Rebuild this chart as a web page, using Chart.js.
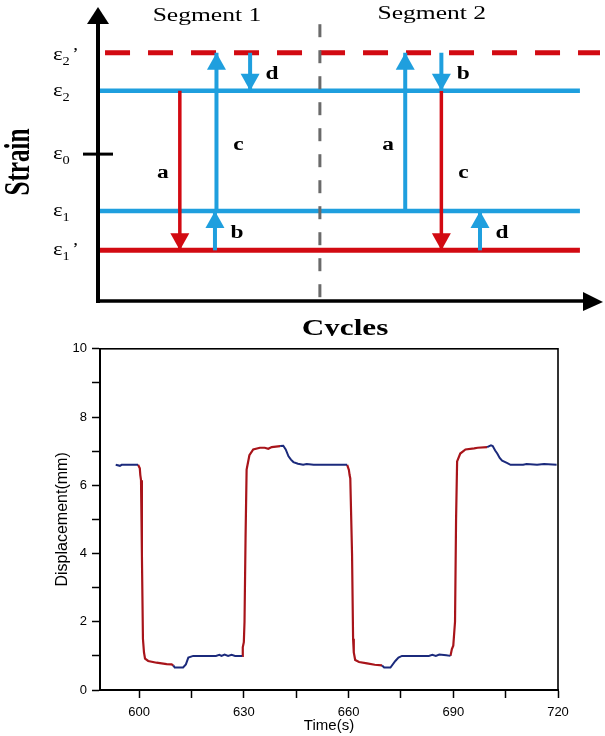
<!DOCTYPE html>
<html>
<head>
<meta charset="utf-8">
<script src="https://cdn.jsdelivr.net/npm/chart.js@4.4.0/dist/chart.umd.min.js"></script>
<style>
  html, body { margin: 0; padding: 0; background: #fff; }
  canvas { display: block; }
</style>
</head>
<body>
<canvas id="schema" width="605" height="336"></canvas>
<canvas id="disp" width="605" height="400"></canvas>
<script>
// schematic: strain levels (arbitrary strain units, eps0 = 0)
const levelSub = ['2', '2', '0', '1', '1'];
const levelPrime = [true, false, false, false, true];
const levelValue = [1.6, 1.0, 0, -0.9, -1.52];
const lineStart = [1.4, 0.3, null, 0.3, 0.3];
const lineEnd = [100, 96, null, 96, 96];

const segmentNames = ['Segment 1', 'Segment 2'];
const segmentCenter = [21.7, 66.5];
const segmentBoundary = 44.2;

// arrows a-d of each segment: cycle position, start and end strain
const arrowLabel = ['a', 'b', 'c', 'd', 'a', 'b', 'c', 'd'];
const arrowCycle = [16.3, 23.3, 23.6, 30.3, 61.2, 68.4, 68.4, 76.1];
const arrowFrom = [1.0, -1.52, -0.9, 1.6, -0.9, 1.6, 1.0, -1.52];
const arrowTo = [-1.52, -0.9, 1.6, 1.0, 1.6, 1.0, -1.52, -0.9];

// displacement record: ramps (red) and holds (blue), null = break
const rampTime = [599.7, 600.2, 600.35, 600.55, 600.8, 601.1, 601.4, 601.7, 602.6, 605, 607.9, 609.3, 609.8, null,
  629.5, 629.7, 630.0, 630.2, 630.5, 630.8, 631.6, 632.7, 634.6, 636, 637, 638, 640.4, null,
  659.6, 660.1, 660.3, 660.5, 661.0, 661.3, 661.5, 661.9, 663, 665.3, 667.5, 669.6, null,
  689.2, 689.6, 690.0, 690.5, 690.8, 691.1, 692, 693.5, 696, 697, 699.7];
const rampDisp = [6.6, 6.5, 6.3, 6.15, 4.0, 1.5, 1.1, 0.92, 0.85, 0.8, 0.76, 0.75, 0.72, null,
  1.0, 1.25, 1.4, 2.0, 4.5, 6.46, 6.88, 7.05, 7.1, 7.1, 7.07, 7.12, 7.15, null,
  6.6, 6.45, 6.3, 6.2, 4.0, 1.5, 1.1, 0.88, 0.82, 0.78, 0.74, 0.72, null,
  1.0, 1.2, 1.3, 2.0, 5.0, 6.7, 6.93, 7.05, 7.08, 7.1, 7.12];
const holdTime = [593.3, 594.5, 595, 597, 599.7, null,
  609.8, 610.2, 612.6, 613.4, 614.1, 615.5, 622, 623, 623.6, 624.5, 625.5, 626.5, 627.5, 629.5, null,
  640.4, 641.3, 642, 642.8, 643.5, 644.2, 645.5, 647, 648, 650, 659.6, null,
  669.6, 670.2, 672, 673.4, 674.3, 675.3, 683, 684, 685, 686, 688, 689.2, null,
  699.7, 700.8, 701.3, 702, 702.6, 703.3, 704, 705.5, 706.4, 710, 711, 714, 716, 719.6];
const holdDisp = [6.6, 6.57, 6.6, 6.6, 6.6, null,
  0.72, 0.66, 0.66, 0.75, 0.95, 1.0, 1.0, 1.03, 1.0, 1.04, 1.0, 1.03, 1.0, 1.0, null,
  7.15, 7.16, 7.05, 6.85, 6.75, 6.68, 6.63, 6.6, 6.62, 6.6, 6.6, null,
  0.72, 0.66, 0.66, 0.85, 0.95, 1.0, 1.0, 1.03, 1.0, 1.04, 1.02, 1.0, null,
  7.12, 7.17, 7.15, 7.02, 6.93, 6.8, 6.72, 6.65, 6.6, 6.6, 6.62, 6.6, 6.62, 6.6];
const timeTicks = [600, 615, 630, 645, 660, 675, 690, 705, 720];

const BLUE = '#1f9fde';
const RED = '#d20a12';
const SERIF = '"Liberation Serif", "Times New Roman", serif';
const SANS = '"Liberation Sans", Arial, sans-serif';

function xy(times, values) {
  return times.map((t, i) => ({ x: t, y: values[i] }));
}

// stretched text helper (the figure is wider than tall)
function text(ctx, str, x, y, font, sx, align, base) {
  ctx.save();
  ctx.translate(x, y);
  ctx.scale(sx, 1);
  ctx.font = font;
  ctx.textAlign = align || 'center';
  ctx.textBaseline = base || 'alphabetic';
  ctx.fillText(str, 0, 0);
  ctx.restore();
}

// ---------- top: schematic ----------
const schemaSets = [];
levelValue.forEach((v, i) => {
  if (lineStart[i] === null) return;
  schemaSets.push({
    data: [{ x: lineStart[i], y: v }, { x: lineEnd[i], y: v }],
    borderColor: levelPrime[i] ? RED : BLUE,
    borderWidth: levelPrime[i] ? 5 : 4.5,
    borderDash: levelPrime[i] && v > 0 ? [25, 18] : [],
    order: 2
  });
});
schemaSets.push({
  data: [{ x: segmentBoundary, y: -2.26 }, { x: segmentBoundary, y: 2.17 }],
  borderColor: '#6a6a6a',
  borderWidth: 3,
  borderDash: [13, 13],
  order: 1
});
const firstArrow = schemaSets.length;
arrowCycle.forEach((c, i) => {
  const isLoad = arrowTo[i] === levelValue[4];
  schemaSets.push({
    data: [{ x: c, y: arrowFrom[i] }, { x: c, y: arrowTo[i] }],
    borderColor: isLoad ? RED : BLUE,
    borderWidth: isLoad ? 3.5 : 4,
    order: 0
  });
});

const schemaDeco = {
  id: 'schemaDeco',
  afterDatasetsDraw(chart) {
    const ctx = chart.ctx;
    const { left, right, top, bottom } = chart.chartArea;
    const ys = chart.scales.y;
    ctx.save();

    // arrow heads and letters
    arrowCycle.forEach((c, i) => {
      const meta = chart.getDatasetMeta(firstArrow + i);
      const p0 = meta.data[0], p1 = meta.data[1];
      const dir = p1.y > p0.y ? 1 : -1;
      ctx.fillStyle = chart.data.datasets[firstArrow + i].borderColor;
      ctx.beginPath();
      ctx.moveTo(p1.x, p1.y);
      ctx.lineTo(p1.x - 9.5, p1.y - dir * 17);
      ctx.lineTo(p1.x + 9.5, p1.y - dir * 17);
      ctx.closePath();
      ctx.fill();

      const long = Math.abs(arrowTo[i] - arrowFrom[i]) > 2 && dir < 0;
      const lx = p1.x + (arrowLabel[i] === 'a' ? -17 : 22);
      const ly = (p0.y + p1.y) / 2 + (long ? 13 : 3);
      ctx.fillStyle = '#000';
      text(ctx, arrowLabel[i], lx, ly, 'bold 18px ' + SERIF, 1.3, 'center', 'middle');
    });

    // axes with arrow heads
    ctx.strokeStyle = '#000';
    ctx.fillStyle = '#000';
    ctx.lineWidth = 4;
    ctx.beginPath();
    ctx.moveTo(left, bottom + 2);
    ctx.lineTo(left, top + 16);
    ctx.stroke();
    ctx.lineWidth = 3.5;
    ctx.beginPath();
    ctx.moveTo(left - 2, bottom);
    ctx.lineTo(right - 16, bottom);
    ctx.stroke();
    ctx.beginPath();
    ctx.moveTo(left, top + 2);
    ctx.lineTo(left - 11, top + 19);
    ctx.lineTo(left + 11, top + 19);
    ctx.closePath();
    ctx.fill();
    ctx.beginPath();
    ctx.moveTo(right + 3, bottom + 1);
    ctx.lineTo(right - 17, bottom - 9);
    ctx.lineTo(right - 17, bottom + 10);
    ctx.closePath();
    ctx.fill();

    // eps0 tick
    const y0 = ys.getPixelForValue(levelValue[2]);
    ctx.lineWidth = 3;
    ctx.beginPath();
    ctx.moveTo(left - 15, y0);
    ctx.lineTo(left + 15, y0);
    ctx.stroke();

    // strain level names
    levelValue.forEach((v, i) => {
      const y = ys.getPixelForValue(v) + (levelPrime[i] && v > 0 ? 3 : 1);
      ctx.save();
      ctx.translate(53, y);
      ctx.scale(1.2, 1);
      ctx.font = '19px ' + SERIF;
      ctx.textAlign = 'left';
      ctx.textBaseline = 'alphabetic';
      ctx.fillText('ε', 0, 4);
      const w = ctx.measureText('ε').width;
      ctx.font = '12px ' + SERIF;
      ctx.fillText(levelSub[i], w, 9);
      if (levelPrime[i]) {
        ctx.font = '16px ' + SERIF;
        ctx.fillText('’', w + 8, 3);
      }
      ctx.restore();
    });

    // segment names
    segmentNames.forEach((s, i) => {
      const x = chart.scales.x.getPixelForValue(segmentCenter[i]);
      text(ctx, s, x, 21 - i * 2, '18px ' + SERIF, 1.42);
    });

    // axis titles
    ctx.save();
    ctx.translate(20, 162);
    ctx.rotate(-Math.PI / 2);
    ctx.scale(1.05, 1.45);
    ctx.font = 'bold 24px ' + SERIF;
    ctx.textAlign = 'center';
    ctx.textBaseline = 'middle';
    ctx.fillText('Strain', 0, 0);
    ctx.restore();
    text(ctx, 'Cycles', 345, 335, 'bold 24px ' + SERIF, 1.3);

    ctx.restore();
  }
};

new Chart(document.getElementById('schema'), {
  type: 'scatter',
  data: { datasets: schemaSets.map(d => Object.assign({ showLine: true, pointRadius: 0, fill: false }, d)) },
  options: {
    responsive: false,
    animation: false,
    events: [],
    layout: { padding: { left: 98, right: 5, top: 5, bottom: 35 } },
    plugins: { legend: { display: false }, tooltip: { enabled: false } },
    scales: {
      x: { type: 'linear', display: false, min: 0, max: 100 },
      y: { type: 'linear', display: false, min: -2.32, max: 2.355 }
    }
  },
  plugins: [schemaDeco]
});

// ---------- bottom: displacement vs time ----------
const frame = {
  id: 'frame',
  afterDraw(chart) {
    const { left, right, top, bottom } = chart.chartArea;
    const ctx = chart.ctx;
    ctx.save();
    ctx.strokeStyle = '#000';
    ctx.lineWidth = 1.6;
    ctx.strokeRect(left, top, right - left, bottom - top);
    ctx.restore();
  }
};

const tickFont = { family: SANS, size: 13 };

new Chart(document.getElementById('disp'), {
  type: 'scatter',
  data: {
    datasets: [
      { data: xy(holdTime, holdDisp), showLine: true, spanGaps: false, borderColor: '#1b2a7c', borderWidth: 2, pointRadius: 0 },
      { data: xy(rampTime, rampDisp), showLine: true, spanGaps: false, borderColor: '#a8141a', borderWidth: 2.2, pointRadius: 0 }
    ]
  },
  options: {
    responsive: false,
    animation: false,
    events: [],
    layout: { padding: { left: 50, right: 47, top: 3, bottom: 1 } },
    plugins: { legend: { display: false }, tooltip: { enabled: false } },
    scales: {
      x: {
        type: 'linear',
        min: 588.8,
        max: 720,
        afterBuildTicks: s => { s.ticks = timeTicks.map(v => ({ value: v })); },
        afterFit: s => { s.height = 45; },
        ticks: {
          autoSkip: false, maxRotation: 0, padding: 7, color: '#000', font: tickFont,
          callback: v => (v % 30 === 0 ? String(v) : '')
        },
        grid: { drawOnChartArea: false, drawTicks: true, tickLength: 8, tickWidth: 1.5, tickColor: '#000' },
        border: { display: true, color: '#000', width: 2 },
        title: { display: true, text: 'Time(s)', color: '#000', font: { family: SANS, size: 15 }, padding: { top: 0, bottom: 0 } }
      },
      y: {
        min: 0,
        max: 10,
        afterFit: s => { s.width = 50; },
        ticks: {
          stepSize: 1, autoSkip: false, padding: 5, color: '#000', font: tickFont,
          callback: v => (v % 2 === 0 ? String(v) : '')
        },
        grid: { drawOnChartArea: false, drawTicks: true, tickLength: 8, tickWidth: 1.5, tickColor: '#000' },
        border: { display: true, color: '#000', width: 2 },
        title: { display: true, text: 'Displacement(mm)', color: '#000', font: { family: SANS, size: 16 }, padding: { top: 3, bottom: 0 } }
      }
    }
  },
  plugins: [frame]
});
</script>
</body>
</html>
